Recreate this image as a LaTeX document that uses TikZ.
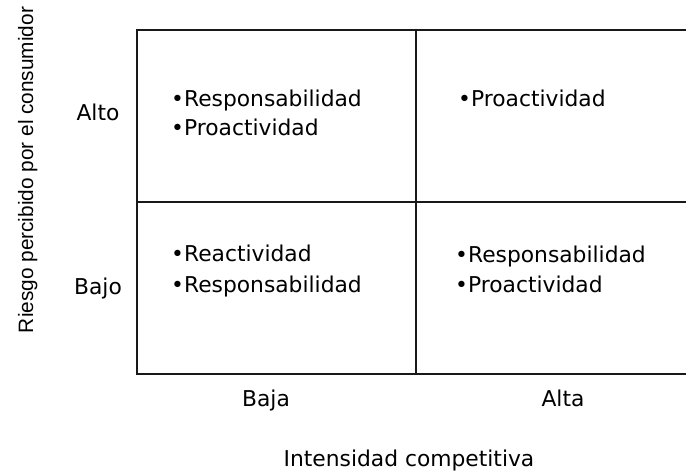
\documentclass[tikz,border=0pt]{standalone}
\usepackage{fontspec}
\setmainfont{DejaVu Sans}
\newfontfamily\arialfont{Liberation Sans}
\begin{document}
\begin{tikzpicture}[x=1pt,y=1pt,
  gridline/.style={line width=1.5pt, black!90},
  lbl/.style={inner sep=0pt, font=\fontsize{21.8}{26}\selectfont},
  item/.style={lbl, anchor=base west}]
\useasboundingbox (0,0) rectangle (686,474);
% grid
\coordinate (tl) at (137,444);
\coordinate (tm) at (416,444);
\coordinate (tr) at (686,444);
\coordinate (ml) at (137,272);
\coordinate (mr) at (686,272);
\coordinate (bl) at (137,100);
\coordinate (bm) at (416,100);
\coordinate (br) at (686,100);
\draw[gridline] (tr) -- (tl) -- (bl) -- (br);
\draw[gridline] (tm) -- (bm);
\draw[gridline] (ml) -- (mr);
% row labels
\node[lbl, anchor=base] (alto) at (98,353) {Alto};
\node[lbl, anchor=base] (bajo) at (98,179) {Bajo};
% column labels
\node[lbl, anchor=base] (baja) at (266,67) {Baja};
\node[lbl, anchor=base] (alta) at (563,67) {Alta};
\node[lbl, anchor=base] (xlab) at (409,7) {Intensidad competitiva};
\node[inner sep=0pt, font=\arialfont\fontsize{20.8}{25}\selectfont, rotate=90, anchor=base] (ylab) at (33,304) {Riesgo percibido por el consumidor};
% cells
\node[item] (a1) at (171,367) {•Responsabilidad};
\node[item] (a2) at (171,338) {•Proactividad};
\node[item] (b1) at (458,367) {•Proactividad};
\node[item] (c1) at (171,212) {•Reactividad};
\node[item] (c2) at (171,181) {•Responsabilidad};
\node[item] (d1) at (455,211) {•Responsabilidad};
\node[item] (d2) at (455,181) {•Proactividad};
\end{tikzpicture}
\end{document}
